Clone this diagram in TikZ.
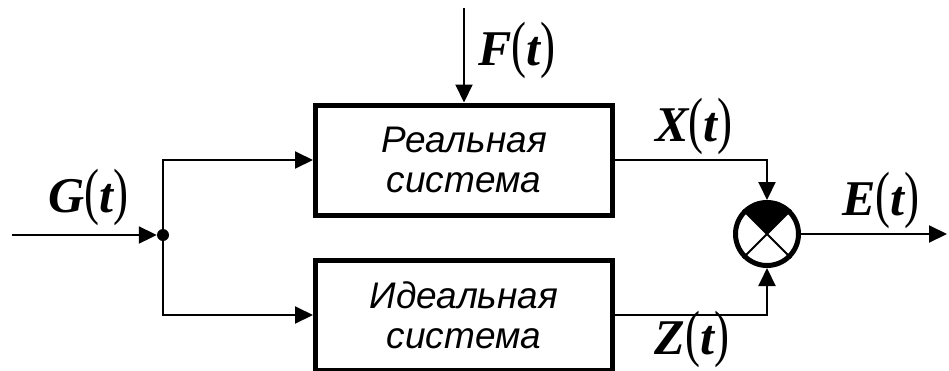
\documentclass[tikz,border=0pt]{standalone}
\usepackage{fontspec}
\setmainfont{Liberation Serif}
\newfontfamily\boxfont{Liberation Sans}
\usetikzlibrary{arrows.meta, positioning}
\tikzset{
  block/.style = {rectangle, draw, line width=5pt, minimum width=297pt, minimum height=110pt, align=center,
                  font=\boxfont\itshape\fontsize{37}{40}\selectfont},
  arrow/.style = {line width=2pt, -{Triangle[length=18pt, width=17pt]}},
  signal/.style = {font=\fontsize{50}{56}\selectfont\bfseries\itshape},
  dot/.style = {circle, fill, inner sep=0pt, minimum size=12pt},
  summer/.style = {circle, draw, line width=5pt, minimum size=63pt, inner sep=0pt}
}
\newcommand{\paren}[1]{\scalebox{0.9}[1.25]{\mdseries\upshape#1}}
\newcommand{\sig}[1]{#1\paren{(}t\paren{)}}

\begin{document}
\begin{tikzpicture}[x=1pt, y=-1pt]
  \useasboundingbox (0,0) rectangle (949,370);

  % Bloecke
  \node[block] (real) at (464,160) {Реальная\\система};
  \node[block, below=40pt of real] (ideal) {Идеальная\\система};

  % Verzweigung und Summierer
  \node[dot] (split) at (163,235) {};
  \node[summer] (sum) at (767,234) {};
  \fill (sum.center) -- (sum.45) -- (sum.70) -- (sum.90) -- (sum.110) -- (sum.135) -- cycle;
  \draw[line width=2pt] (sum.45) -- (sum.225);
  \draw[line width=2pt] (sum.135) -- (sum.315);

  % Ein- und Ausgaenge
  \coordinate (in) at (12,235);
  \coordinate (fin) at (464,8);
  \coordinate (out) at (947,234);

  % Verbindungen
  \draw[arrow] (in) -- (split);
  \draw[arrow] (split) |- (real.west);
  \draw[arrow] (split) |- (ideal.west);
  \draw[arrow] (fin) -- (real);
  \draw[arrow] (real.east) -| (sum.north);
  \draw[arrow] (ideal.east) -| (sum.south);
  \draw[arrow] (sum) -- (out);

  % Signale
  \node[signal] (G) at (88,197) {\sig{G}};
  \node[signal] (F) at (517,50) {\sig{F}};
  \node[signal] (X) at (694,126) {\sig{X}};
  \node[signal] (Z) at (692,339) {\sig{Z}};
  \node[signal] (E) at (881,200) {\sig{E}};
\end{tikzpicture}
\end{document}
